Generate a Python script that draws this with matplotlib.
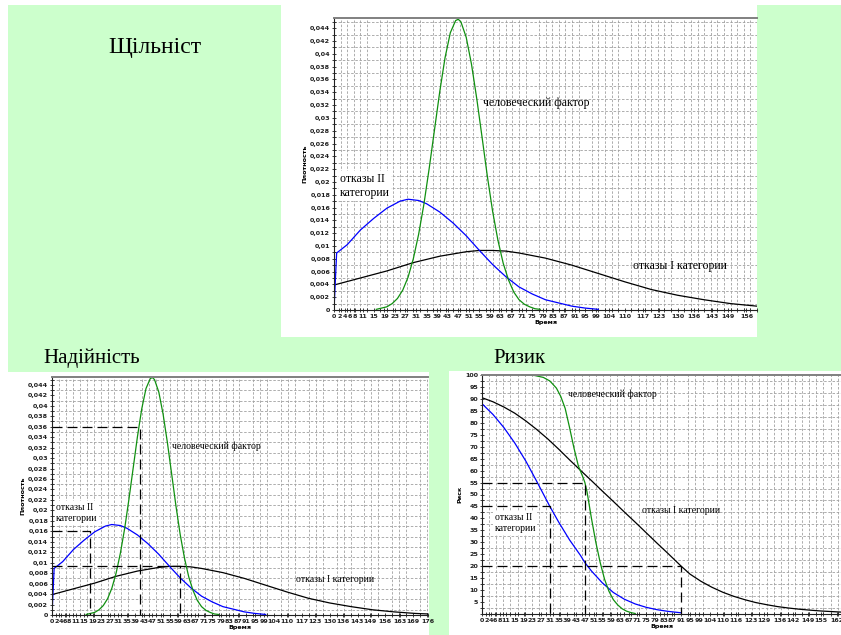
import matplotlib
matplotlib.use("Agg")
import matplotlib.pyplot as plt
from matplotlib.patches import Rectangle
from matplotlib.ticker import MultipleLocator

# ---------------- data ----------------
# x tick labels (time)
time_ticks_top = [0, 2, 4, 6, 8, 11, 15, 19, 23, 27, 31, 35, 39, 43, 47, 51, 55, 59,
                  63, 67, 71, 75, 79, 83, 87, 91, 95, 99, 104, 110, 117, 123, 130,
                  136, 143, 149, 156]
time_ticks_left = time_ticks_top + [163, 169, 176]
time_ticks_right = [0, 2, 4, 6, 8, 11, 15, 19, 23, 27, 31, 35, 39, 43, 47, 51, 55, 59,
                    63, 67, 71, 75, 79, 83, 87, 91, 95, 99, 104, 110, 116, 123, 129,
                    136, 142, 149, 155, 162]

density_ticks = [0, 0.002, 0.004, 0.006, 0.008, 0.01, 0.012, 0.014, 0.016, 0.018,
                 0.02, 0.022, 0.024, 0.026, 0.028, 0.03, 0.032, 0.034, 0.036,
                 0.038, 0.04, 0.042, 0.044]
density_tick_labels = ["0", "0,002", "0,004", "0,006", "0,008", "0,01", "0,012",
                       "0,014", "0,016", "0,018", "0,02", "0,022", "0,024", "0,026",
                       "0,028", "0,03", "0,032", "0,034", "0,036", "0,038", "0,04",
                       "0,042", "0,044"]
risk_ticks = [5, 10, 15, 20, 25, 30, 35, 40, 45, 50, 55, 60, 65, 70, 75, 80, 85, 90,
              95, 100]

# density: failures of category I
cat1_t = [0, 0, 10, 20, 30, 40, 50, 55, 60, 65, 70, 80, 90, 100, 110, 120, 130,
          140, 150, 160, 170, 176]
cat1_density = [0, 0.0039, 0.0050, 0.0061, 0.0074, 0.0084, 0.0091, 0.0093, 0.0093,
                0.0092, 0.0089, 0.0081, 0.0070, 0.0057, 0.0044, 0.0032, 0.0023,
                0.0016, 0.0010, 0.0006, 0.0003, 0.0002]

# density: failures of category II
cat2_t = [0, 1, 5, 10, 15, 20, 25, 28, 32, 35, 40, 45, 50, 55, 60, 65, 70, 75, 80,
          85, 90, 95, 100]
cat2_density = [0, 0.0089, 0.0102, 0.0125, 0.0143, 0.0159, 0.0170, 0.0173, 0.0171,
                0.0166, 0.0153, 0.0136, 0.0116, 0.0093, 0.0071, 0.0052, 0.0036,
                0.0025, 0.0016, 0.0011, 0.0006, 0.0003, 0.0001]

# density: human factor
human_t = [16, 18, 20, 22, 24, 26, 28, 30, 32, 34, 36, 38, 40, 42, 44, 46, 47, 48,
           50, 52, 54, 56, 58, 60, 62, 64, 66, 68, 70, 72, 74, 76, 78]
human_density = [0.0001, 0.0003, 0.0005, 0.0010, 0.0018, 0.0031, 0.0051, 0.0080,
                 0.0118, 0.0165, 0.0221, 0.0281, 0.0341, 0.0394, 0.0433, 0.0452,
                 0.0454, 0.0450, 0.0426, 0.0384, 0.0330, 0.0270, 0.0209, 0.0154,
                 0.0109, 0.0073, 0.0047, 0.0028, 0.0016, 0.0009, 0.0005, 0.0002,
                 0.0001]

# risk (%)
cat1_risk_t = [0, 5, 10, 15, 20, 25, 30, 35, 40, 45, 50, 55, 60, 65, 70, 75, 80, 85,
               91, 95, 100, 105, 110, 115, 120, 125, 130, 135, 140, 145, 150, 155,
               160, 164]
cat1_risk = [90.5, 88.8, 86.6, 84, 80.8, 77.2, 73.3, 69, 64.5, 60.1, 55.8, 51.4,
             47.1, 42.7, 38.4, 34, 29.6, 25.3, 20, 16.7, 13.7, 11.2, 9.1, 7.4, 6.0,
             4.8, 3.9, 3.1, 2.5, 2.0, 1.6, 1.25, 1.0, 0.8]

cat2_risk_t = [0, 5, 10, 15, 20, 25, 31, 35, 40, 45, 47, 50, 55, 60, 65, 70, 75, 80,
               85, 91]
cat2_risk = [88, 83.5, 78, 71.5, 64, 55.5, 45, 38.5, 31, 24.5, 21.5, 18, 13, 9, 6.2,
             4.2, 2.8, 1.8, 1.1, 0.5]

human_risk_t = [18, 24, 28, 31, 34, 36, 38, 40, 42, 44, 46, 47, 48, 50, 52, 54, 56,
                58, 60, 62, 64, 66, 68, 70]
human_risk = [100, 99.8, 99, 97.5, 94.5, 91, 86, 78, 69.5, 62, 57.5, 55, 51, 40, 30,
              21.5, 14.5, 9.5, 6, 3.8, 2.2, 1.2, 0.6, 0.2]

# reference (dashed) readings
density_ref_levels = [0.036, 0.016, 0.0093]
density_ref_times = [41, 18, 60]
risk_ref_levels = [55, 45, 20]
risk_ref_times = [47, 31, 91]

# ---------------- figure ----------------
W, H = 841, 635
fig = plt.figure(figsize=(W / 100, H / 100), dpi=100)
fig.patch.set_facecolor("white")

BG = "#ccffcc"
C_CAT1 = "#000000"
C_CAT2 = "#0000ff"
C_HUMAN = "#109010"
SERIF = ["Liberation Serif", "DejaVu Serif"]


def rect_px(x0, y0, x1, y1, color):
    fig.patches.append(Rectangle((x0 / W, 1 - y1 / H), (x1 - x0) / W, (y1 - y0) / H,
                                 transform=fig.transFigure, facecolor=color,
                                 edgecolor="none", zorder=-10))


def axes_px(x0, y0, x1, y1):
    ax = fig.add_axes([x0 / W, 1 - y1 / H, (x1 - x0) / W, (y1 - y0) / H])
    ax.set_zorder(5)
    return ax


def text_px(x, y, s, **kw):
    fig.text(x / W, 1 - y / H, s, **kw)


# background slide and white panels
rect_px(8, 5, W, H, BG)
rect_px(281, 0, 757, 337, "white")
rect_px(8, 372, 429, H, "white")
rect_px(449, 371, W, H, "white")

text_px(155, 47, "Щільніст", family=SERIF, fontsize=17, ha="center", va="center")
text_px(92, 358, "Надійність", family=SERIF, fontsize=15, ha="center", va="center")
text_px(519, 359, "Ризик", family=SERIF, fontsize=15, ha="center", va="center")


def style(ax, xmax, ymax, xticks, yticks, ylabels, xgrid, ygrid, xlabel, ylabel):
    ax.set_facecolor("white")
    ax.set_xlim(0, xmax)
    ax.set_ylim(0, ymax)
    ax.set_xticks(xticks)
    ax.set_xticklabels([str(v) for v in xticks])
    ax.set_yticks(yticks)
    ax.set_yticklabels(ylabels)
    ax.xaxis.set_minor_locator(MultipleLocator(xgrid))
    ax.yaxis.set_minor_locator(MultipleLocator(ygrid))
    ax.grid(which="minor", color="#a0a0a0", lw=0.6, ls=(0, (3, 2)))
    ax.tick_params(which="both", direction="inout", length=2.5, width=0.6,
                   labelsize=4.6, pad=1.5, colors="#202020")
    for lab in ax.get_xticklabels() + ax.get_yticklabels():
        lab.set_fontweight("bold")
    ax.spines["right"].set_visible(False)
    ax.spines["top"].set_color("#808080")
    ax.spines["top"].set_linewidth(1.4)
    for s in ("left", "bottom"):
        ax.spines[s].set_color("#202020")
        ax.spines[s].set_linewidth(0.8)
    ax.set_xlabel(xlabel, fontsize=4.6, fontweight="bold", labelpad=1)
    ax.set_ylabel(ylabel, fontsize=4.6, fontweight="bold", labelpad=2)


def draw_density(ax):
    ax.plot(cat1_t, cat1_density, color=C_CAT1, lw=0.9)
    ax.plot(cat2_t, cat2_density, color=C_CAT2, lw=0.9)
    ax.plot(human_t, human_density, color=C_HUMAN, lw=0.9)


# ---- density (top) ----
ax1 = axes_px(334, 18, 757, 310)
style(ax1, 160, 0.0456, time_ticks_top, density_ticks, density_tick_labels,
      2.5, 0.001, "Время", "Плотность")
draw_density(ax1)
ax1.text(0.352, 0.71, "человеческий фактор", transform=ax1.transAxes,
         family=SERIF, fontsize=8.5, va="center")
ax1.text(0.014, 0.425, "отказы II\nкатегории", transform=ax1.transAxes,
         family=SERIF, fontsize=8.5, va="center", linespacing=1.3,
         bbox=dict(facecolor="white", edgecolor="none", pad=1))
ax1.text(0.707, 0.15, "отказы I категории", transform=ax1.transAxes,
         family=SERIF, fontsize=8.5, va="center")

# ---- reliability (bottom left) ----
ax2 = axes_px(52, 377, 428, 615)
style(ax2, 174, 0.0455, time_ticks_left, density_ticks, density_tick_labels,
      3.25, 0.001, "Время", "Плотность")
draw_density(ax2)
for lev, t in zip(density_ref_levels, density_ref_times):
    ax2.plot([0, t, t], [lev, lev, 0], color="black", lw=0.9, ls=(0, (8, 4)))
ax2.text(0.318, 0.71, "человеческий фактор", transform=ax2.transAxes,
         family=SERIF, fontsize=7, va="center")
ax2.text(0.011, 0.43, "отказы II\nкатегории", transform=ax2.transAxes,
         family=SERIF, fontsize=7, va="center", linespacing=1.3,
         bbox=dict(facecolor="white", edgecolor="none", pad=1))
ax2.text(0.65, 0.15, "отказы I категории", transform=ax2.transAxes,
         family=SERIF, fontsize=7, va="center")

# ---- risk (bottom right) ----
ax3 = axes_px(482, 375, 841, 614)
style(ax3, 164, 100, time_ticks_right, risk_ticks, [str(v) for v in risk_ticks],
      3.25, 2.5, "Время", "Риск")
ax3.plot(cat1_risk_t, cat1_risk, color=C_CAT1, lw=0.9)
ax3.plot(cat2_risk_t, cat2_risk, color=C_CAT2, lw=0.9)
ax3.plot(human_risk_t, human_risk, color=C_HUMAN, lw=0.9, clip_on=False)
for lev, t in zip(risk_ref_levels, risk_ref_times):
    ax3.plot([0, t, t], [lev, lev, 0], color="black", lw=0.9, ls=(0, (8, 4)))
ax3.text(0.24, 0.92, "человеческий фактор", transform=ax3.transAxes,
         family=SERIF, fontsize=7, va="center")
ax3.text(0.445, 0.435, "отказы I категории", transform=ax3.transAxes,
         family=SERIF, fontsize=7, va="center")
ax3.text(0.035, 0.38, "отказы II\nкатегории", transform=ax3.transAxes,
         family=SERIF, fontsize=7, va="center", linespacing=1.3,
         bbox=dict(facecolor="white", edgecolor="none", pad=1))

fig.savefig("out.png", dpi=100, facecolor=fig.get_facecolor())
